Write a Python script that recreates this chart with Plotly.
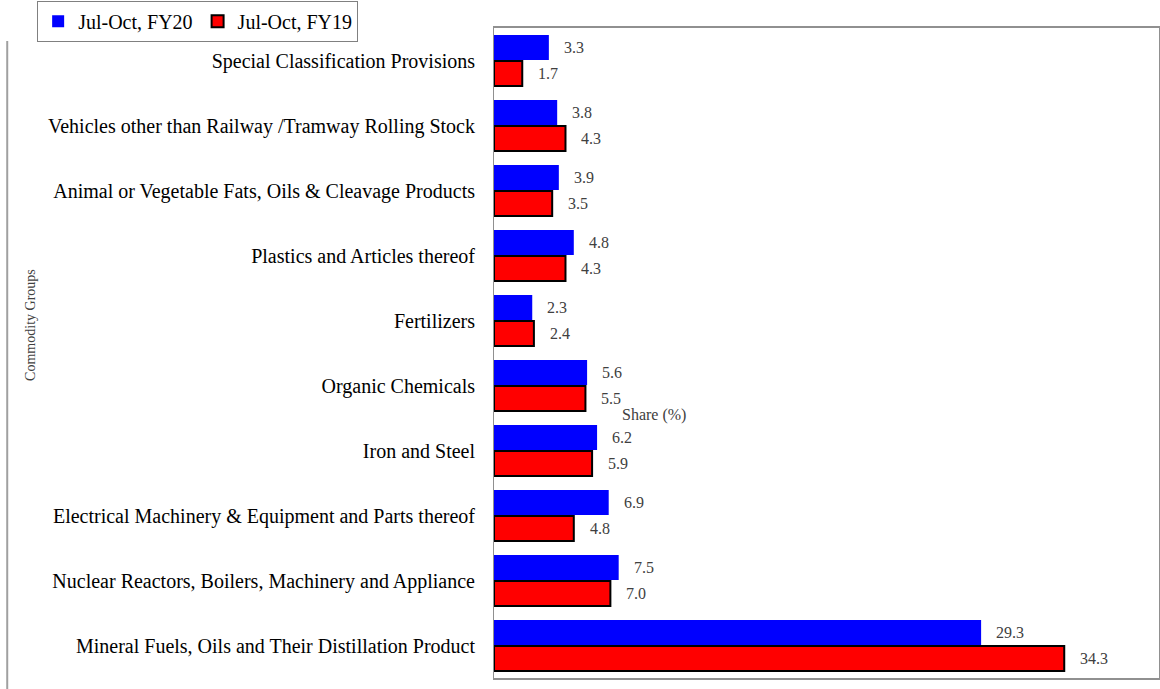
import plotly.graph_objects as go

categories = [
    "Special Classification Provisions",
    "Vehicles other than Railway /Tramway Rolling Stock",
    "Animal or Vegetable Fats, Oils & Cleavage Products",
    "Plastics and Articles thereof",
    "Fertilizers",
    "Organic Chemicals",
    "Iron and Steel",
    "Electrical Machinery & Equipment and Parts thereof",
    "Nuclear Reactors, Boilers, Machinery and Appliance",
    "Mineral Fuels, Oils and Their Distillation Product",
]
fy20 = [3.3, 3.8, 3.9, 4.8, 2.3, 5.6, 6.2, 6.9, 7.5, 29.3]
fy19 = [1.7, 4.3, 3.5, 4.3, 2.4, 5.5, 5.9, 4.8, 7.0, 34.3]
series_names = ["Jul-Oct, FY20", "Jul-Oct, FY19"]

FONT = "Liberation Serif, Times New Roman, serif"

fig = go.Figure()
fig.add_trace(go.Bar(
    y=categories, x=fy20, orientation="h", name=series_names[0],
    marker=dict(color="#0000FF", line=dict(width=0)),
))
fig.add_trace(go.Bar(
    y=categories, x=fy19, orientation="h", name=series_names[1],
    marker=dict(color="#FF0000", line=dict(color="black", width=2)),
))

annotations = []
for c, v in zip(categories, fy20):
    annotations.append(dict(x=v, y=c, xref="x", yref="y", text=f"{v:.1f}",
                            showarrow=False, xanchor="left", xshift=13, yshift=13,
                            font=dict(family=FONT, size=16, color="#404040")))
for c, v in zip(categories, fy19):
    annotations.append(dict(x=v, y=c, xref="x", yref="y", text=f"{v:.1f}",
                            showarrow=False, xanchor="left", xshift=14, yshift=-13,
                            font=dict(family=FONT, size=16, color="#404040")))
annotations.append(dict(x=0.19, y=0.405, xref="paper", yref="paper", text="Share (%)",
                        xanchor="left", showarrow=False,
                        font=dict(family=FONT, size=16, color="#404040")))
annotations.append(dict(x=-0.698, y=0.543, xref="paper", yref="paper", text="Commodity Groups",
                        xanchor="center", yanchor="middle",
                        textangle=-90, showarrow=False,
                        font=dict(family=FONT, size=14, color="#404040")))

fig.update_layout(
    width=1160, height=689,
    margin=dict(l=494, r=1, t=28, b=11, autoexpand=False),
    paper_bgcolor="white", plot_bgcolor="white",
    barmode="group", bargap=0.2, bargroupgap=0.03,
    font=dict(family=FONT, size=20, color="black"),
    showlegend=True,
    legend=dict(orientation="h", x=-0.687, y=0.979, xanchor="left", yanchor="bottom",
                bordercolor="#808080", borderwidth=1, bgcolor="white",
                font=dict(family=FONT, size=20, color="black"),
                itemwidth=30, traceorder="normal", tracegroupgap=0,
                itemsizing="constant"),
    annotations=annotations,
    shapes=[dict(type="line", xref="paper", yref="paper",
                 x0=-0.732, x1=-0.732, y0=-0.02, y1=0.98,
                 line=dict(color="#A0A0A0", width=2))],
)
fig.update_xaxes(range=[0, 40], showticklabels=False, showgrid=False, zeroline=False,
                 showline=True, linecolor="#909090", linewidth=2, mirror=True, ticks="")
fig.update_yaxes(autorange="reversed", showgrid=False, zeroline=False,
                 showline=True, linecolor="#909090", linewidth=1, mirror=True,
                 ticks="", ticklabelstandoff=14,
                 tickfont=dict(family=FONT, size=20, color="black"))

fig.write_html("out.html", config={"displayModeBar": False},
               post_script="document.body.style.margin='0';")
